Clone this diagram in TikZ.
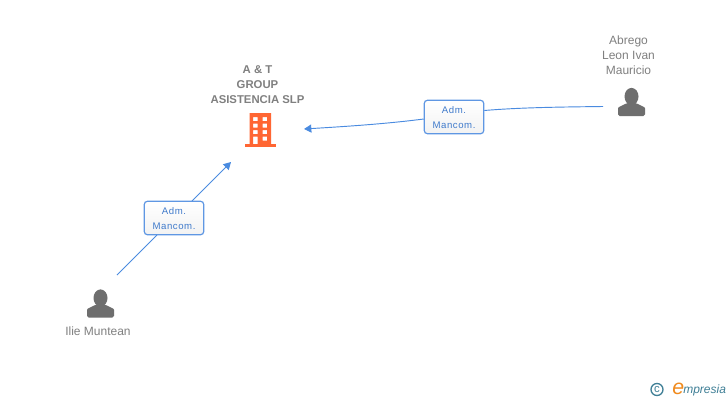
\documentclass[tikz,border=0pt]{standalone}
\usepackage{fontspec}
\usetikzlibrary{arrows.meta}
\setmainfont{Liberation Sans}
\definecolor{linkblue}{HTML}{4A8BE0}
\definecolor{boxblue}{HTML}{5F97E3}
\definecolor{labelblue}{HTML}{3F7ACB}
\definecolor{namegray}{HTML}{808080}
\definecolor{icongray}{HTML}{6E6E6E}
\definecolor{bldg}{HTML}{FF6633}
\definecolor{logoteal}{HTML}{3F7F96}
\definecolor{logoorange}{HTML}{F08A1D}
\tikzset{
  x=0.75pt,y=-0.75pt,
  link/.style={draw=linkblue,line width=0.7pt},
  linkhead/.style={link,-{Triangle[length=5.5pt,width=6pt]}},
  rolebox/.style={draw=boxblue,line width=0.9pt,rounded corners=2.2pt,top color=white,bottom color=black!5,
    minimum width=44.5pt,minimum height=25pt,inner sep=0pt,align=center,text=labelblue,
    font=\fontsize{7.2}{11.2}\selectfont\addfontfeature{LetterSpace=6}},
  personname/.style={text=namegray,align=center,inner sep=0pt,font=\fontsize{9}{11.2}\selectfont},
  companyname/.style={text=namegray,align=center,inner sep=0pt,font=\fontsize{8.5}{11.2}\selectfont\bfseries},
  person/.pic={
    \fill[icongray] (0,-10.5) ellipse (7 and 8.6);
    \fill[icongray,rounded corners=1.2pt] (-13.5,9) -- (-13.5,3) .. controls (-13.5,-0.5) and (-9,-1) .. (-5,-4)
      -- (5,-4) .. controls (9,-1) and (13.5,-0.5) .. (13.5,3) -- (13.5,9) -- cycle;
  }
}
\begin{document}
\begin{tikzpicture}
\useasboundingbox (0,0) rectangle (728,400);
\fill[white] (0,0) rectangle (728,400);
% company
\node[companyname] (company) at (257.5,84.5) {A \& T\\GROUP\\ASISTENCIA SLP};
\fill[bldg,even odd rule] (249.5,113) rectangle (271,145)
  (253,117) rectangle (257.5,121) (262.5,117) rectangle (267,121)
  (253,123.7) rectangle (257.5,127.7) (262.5,123.7) rectangle (267,127.7)
  (253,130) rectangle (257.5,134) (262.5,130) rectangle (267,134)
  (253,136.5) rectangle (257.5,145) (262.5,136.5) rectangle (267,140.5);
\fill[bldg] (244.5,144) rectangle (276,147);
% people
\pic at (631.5,107) {person};
\pic at (100.5,308.5) {person};
\node[personname] (abrego) at (628.5,55) {Abrego\\Leon Ivan\\Mauricio};
\node[personname] (ilie) at (98,331) {Ilie Muntean};
% role boxes
\node[rolebox] (roleA) at (454,117) {\rule{0pt}{6.7pt}Adm.\\Mancom.};
\node[rolebox] (roleB) at (174,218) {\rule{0pt}{6.7pt}Adm.\\Mancom.};
% connector ends
\coordinate (abregoEnd) at (603,106.5);
\coordinate (companyEast) at (304,129);
\coordinate (ilieEnd) at (117,275);
\coordinate (companySouth) at (231,162);
\coordinate (roleAright) at (roleA.east |- 0,110.5);
\coordinate (roleAleft) at (roleA.west |- 0,119);
\coordinate (roleBlow) at (157,235);
\coordinate (roleBtop) at (192,201);
\draw[link] (abregoEnd) .. controls (560,107) and (520,107.5) .. (roleAright);
\draw[linkhead] (roleAleft) .. controls (385,124) and (345,126.5) .. (companyEast);
\draw[link] (ilieEnd) -- (roleBlow);
\draw[linkhead] (roleBtop) -- (companySouth);
% logo
\node[draw=logoteal,circle,line width=1pt,minimum size=9pt,inner sep=0pt,text=logoteal,font=\fontsize{8.5}{8.5}\selectfont] (copyr) at (657,389.5) {c};
\node[inner sep=0pt,anchor=base west,text=logoorange,font=\itshape\fontsize{16}{16}\selectfont] (logoe) at (672,394) {e};
\node[inner sep=0pt,anchor=base west,text=logoteal,font=\itshape\fontsize{9}{12}\selectfont] (logot) at (683,393.5) {mpresia};
\end{tikzpicture}
\end{document}
